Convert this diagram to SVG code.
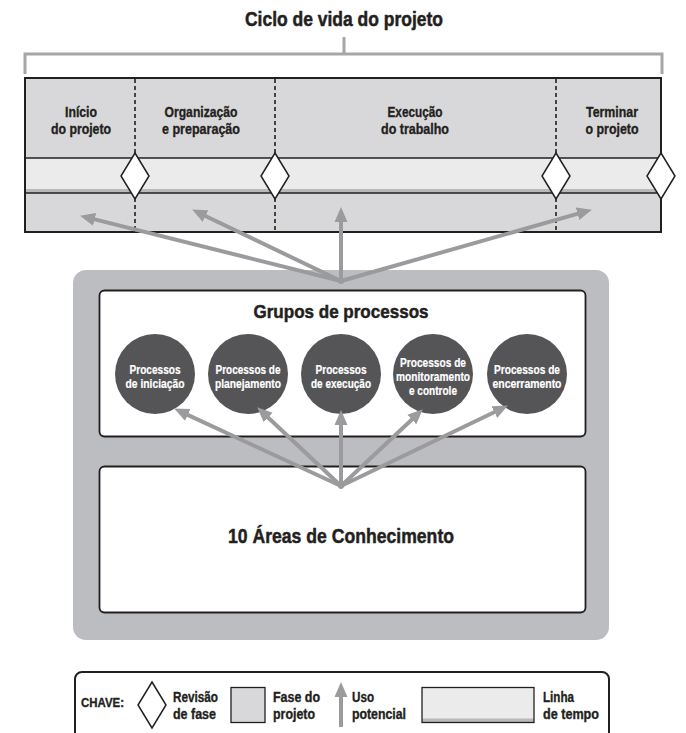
<svg xmlns="http://www.w3.org/2000/svg" width="686" height="733" viewBox="0 0 686 733">
<defs>
<style>
text{font-family:"Liberation Sans",Arial,sans-serif;font-weight:bold;fill:#231f20;stroke:#231f20;stroke-width:0.35px}
.ph{font-size:15px;text-anchor:middle}
.ct{font-size:12.5px;text-anchor:middle;fill:#ffffff;stroke:#ffffff;stroke-width:0.2px}
.key{font-size:14px}
.arr{stroke:#9b9b9d;stroke-width:4;fill:none;marker-end:url(#ah)}
.dash{stroke:#231f20;stroke-width:1.6;stroke-dasharray:4 3}
.dia{fill:#ffffff;stroke:#231f20;stroke-width:1.5}
.circ{fill:#555557}
.wbox{fill:#ffffff;stroke:#231f20;stroke-width:1.8}
</style>
<marker id="ah" markerUnits="userSpaceOnUse" markerWidth="16" markerHeight="14" viewBox="0 -7 16 14" refX="6" refY="0" orient="auto">
<path d="M0,-6.5 L15,0 L0,6.5 z" fill="#9b9b9d"/>
</marker>
</defs>
<rect width="686" height="733" fill="#ffffff"/>

<g id="title">
<text x="344" y="26" style="font-size:20px;stroke-width:0.5px" text-anchor="middle" textLength="198" lengthAdjust="spacingAndGlyphs">Ciclo de vida do projeto</text>
<path d="M344,37 V54 M25,74 V54 H662 V74" fill="none" stroke="#a6a6a8" stroke-width="3"/>
</g>

<g id="lifecycle">
<rect x="25" y="78" width="636" height="154" fill="#d8d8da"/>
<rect x="25" y="158" width="636" height="35" fill="#ebebec"/>
<rect x="25" y="189" width="636" height="4" fill="#b9b9bb"/>
<line x1="25" y1="158" x2="661" y2="158" stroke="#231f20" stroke-width="1.6"/>
<line x1="25" y1="193" x2="661" y2="193" stroke="#231f20" stroke-width="1.6"/>
<rect x="25" y="78" width="636" height="154" fill="none" stroke="#231f20" stroke-width="2"/>
<line class="dash" x1="135" y1="79" x2="135" y2="231"/>
<line class="dash" x1="275" y1="79" x2="275" y2="231"/>
<line class="dash" x1="556" y1="79" x2="556" y2="231"/>
</g>

<g id="phase-inicio">
<text class="ph" x="81" y="117" textLength="32" lengthAdjust="spacingAndGlyphs">Início</text>
<text class="ph" x="81" y="134" textLength="60" lengthAdjust="spacingAndGlyphs">do projeto</text>
</g>
<g id="phase-organizacao">
<text class="ph" x="201" y="117" textLength="73" lengthAdjust="spacingAndGlyphs">Organização</text>
<text class="ph" x="201" y="134" textLength="78" lengthAdjust="spacingAndGlyphs">e preparação</text>
</g>
<g id="phase-execucao">
<text class="ph" x="415" y="117" textLength="55" lengthAdjust="spacingAndGlyphs">Execução</text>
<text class="ph" x="415" y="134" textLength="68" lengthAdjust="spacingAndGlyphs">do trabalho</text>
</g>
<g id="phase-terminar">
<text class="ph" x="612" y="117" textLength="52" lengthAdjust="spacingAndGlyphs">Terminar</text>
<text class="ph" x="612" y="134" textLength="53" lengthAdjust="spacingAndGlyphs">o projeto</text>
</g>

<g id="reviews">
<path class="dia" d="M135,153 L149,176 L135,199 L121,176 z"/>
<path class="dia" d="M275,153 L289,176 L275,199 L261,176 z"/>
<path class="dia" d="M556,153 L570,176 L556,199 L542,176 z"/>
<path class="dia" d="M661,153 L675,176 L661,199 L647,176 z"/>
</g>

<g id="outer-panel">
<rect x="73" y="270" width="536" height="370" rx="13" fill="#bcbdc0"/>
</g>

<g id="process-groups">
<rect class="wbox" x="99.5" y="290.5" width="486" height="146" rx="5"/>
<text x="341" y="318" style="font-size:19px;stroke-width:0.5px" text-anchor="middle" textLength="175" lengthAdjust="spacingAndGlyphs">Grupos de processos</text>
</g>

<g id="pg-iniciacao">
<circle class="circ" cx="155" cy="374" r="40"/>
<text class="ct" x="155" y="374" textLength="51" lengthAdjust="spacingAndGlyphs">Processos</text>
<text class="ct" x="155" y="388" textLength="59" lengthAdjust="spacingAndGlyphs">de iniciação</text>
</g>
<g id="pg-planejamento">
<circle class="circ" cx="248" cy="374" r="40"/>
<text class="ct" x="248" y="374" textLength="65" lengthAdjust="spacingAndGlyphs">Processos de</text>
<text class="ct" x="248" y="388" textLength="66" lengthAdjust="spacingAndGlyphs">planejamento</text>
</g>
<g id="pg-execucao">
<circle class="circ" cx="341" cy="374" r="40"/>
<text class="ct" x="341" y="374" textLength="51" lengthAdjust="spacingAndGlyphs">Processos</text>
<text class="ct" x="341" y="388" textLength="60" lengthAdjust="spacingAndGlyphs">de execução</text>
</g>
<g id="pg-monitoramento">
<circle class="circ" cx="433" cy="374" r="40"/>
<text class="ct" x="433" y="367" textLength="66" lengthAdjust="spacingAndGlyphs">Processos de</text>
<text class="ct" x="433" y="381" textLength="74" lengthAdjust="spacingAndGlyphs">monitoramento</text>
<text class="ct" x="433" y="395" textLength="48" lengthAdjust="spacingAndGlyphs">e controle</text>
</g>
<g id="pg-encerramento">
<circle class="circ" cx="527" cy="374" r="40"/>
<text class="ct" x="527" y="374" textLength="66" lengthAdjust="spacingAndGlyphs">Processos de</text>
<text class="ct" x="527" y="388" textLength="69" lengthAdjust="spacingAndGlyphs">encerramento</text>
</g>

<g id="knowledge-areas">
<rect class="wbox" x="99.5" y="466.5" width="486" height="146" rx="5"/>
<text x="341" y="543" style="font-size:21px;stroke-width:0.5px" text-anchor="middle" textLength="226" lengthAdjust="spacingAndGlyphs">10 Áreas de Conhecimento</text>
</g>

<g id="connectors">
<line class="arr" x1="341" y1="281" x2="88.8" y2="217.9"/>
<line class="arr" x1="341" y1="281" x2="200.2" y2="213.5"/>
<line class="arr" x1="341" y1="281" x2="341" y2="216"/>
<line class="arr" x1="341" y1="281" x2="583.3" y2="212.2"/>
<circle cx="341" cy="281" r="3" fill="#9b9b9d"/>
<line class="arr" x1="341" y1="486" x2="182.3" y2="412.4"/>
<line class="arr" x1="341" y1="486" x2="263.8" y2="413.5"/>
<line class="arr" x1="341" y1="486" x2="341" y2="419"/>
<line class="arr" x1="341" y1="486" x2="416.2" y2="415.5"/>
<line class="arr" x1="341" y1="486" x2="499.8" y2="409.5"/>
<circle cx="341" cy="486" r="3" fill="#9b9b9d"/>
</g>

<g id="key">
<rect x="75" y="672" width="534" height="75" rx="7" fill="#ffffff" stroke="#231f20" stroke-width="2"/>
<text x="81" y="707" style="font-size:13.5px" textLength="43" lengthAdjust="spacingAndGlyphs">CHAVE:</text>
<path class="dia" d="M152,682 L166,705 L152,728 L138,705 z"/>
<text class="key" x="173" y="702" textLength="45" lengthAdjust="spacingAndGlyphs">Revisão</text>
<text class="key" x="173" y="719" textLength="43" lengthAdjust="spacingAndGlyphs">de fase</text>
<rect x="231" y="687.5" width="34" height="35" fill="#d8d8da" stroke="#231f20" stroke-width="1.3"/>
<text class="key" x="273" y="702" textLength="47" lengthAdjust="spacingAndGlyphs">Fase do</text>
<text class="key" x="273" y="719" textLength="42" lengthAdjust="spacingAndGlyphs">projeto</text>
<line class="arr" x1="341" y1="727" x2="341" y2="691"/>
<text class="key" x="352" y="702" textLength="22" lengthAdjust="spacingAndGlyphs">Uso</text>
<text class="key" x="352" y="719" textLength="54" lengthAdjust="spacingAndGlyphs">potencial</text>
<rect x="422" y="687.5" width="112" height="35" fill="#ebebec"/>
<rect x="422" y="718.5" width="112" height="4" fill="#b9b9bb"/>
<rect x="422" y="687.5" width="112" height="35" fill="none" stroke="#231f20" stroke-width="1.3"/>
<text class="key" x="543" y="702" textLength="31" lengthAdjust="spacingAndGlyphs">Linha</text>
<text class="key" x="543" y="719" textLength="56" lengthAdjust="spacingAndGlyphs">de tempo</text>
</g>
</svg>
